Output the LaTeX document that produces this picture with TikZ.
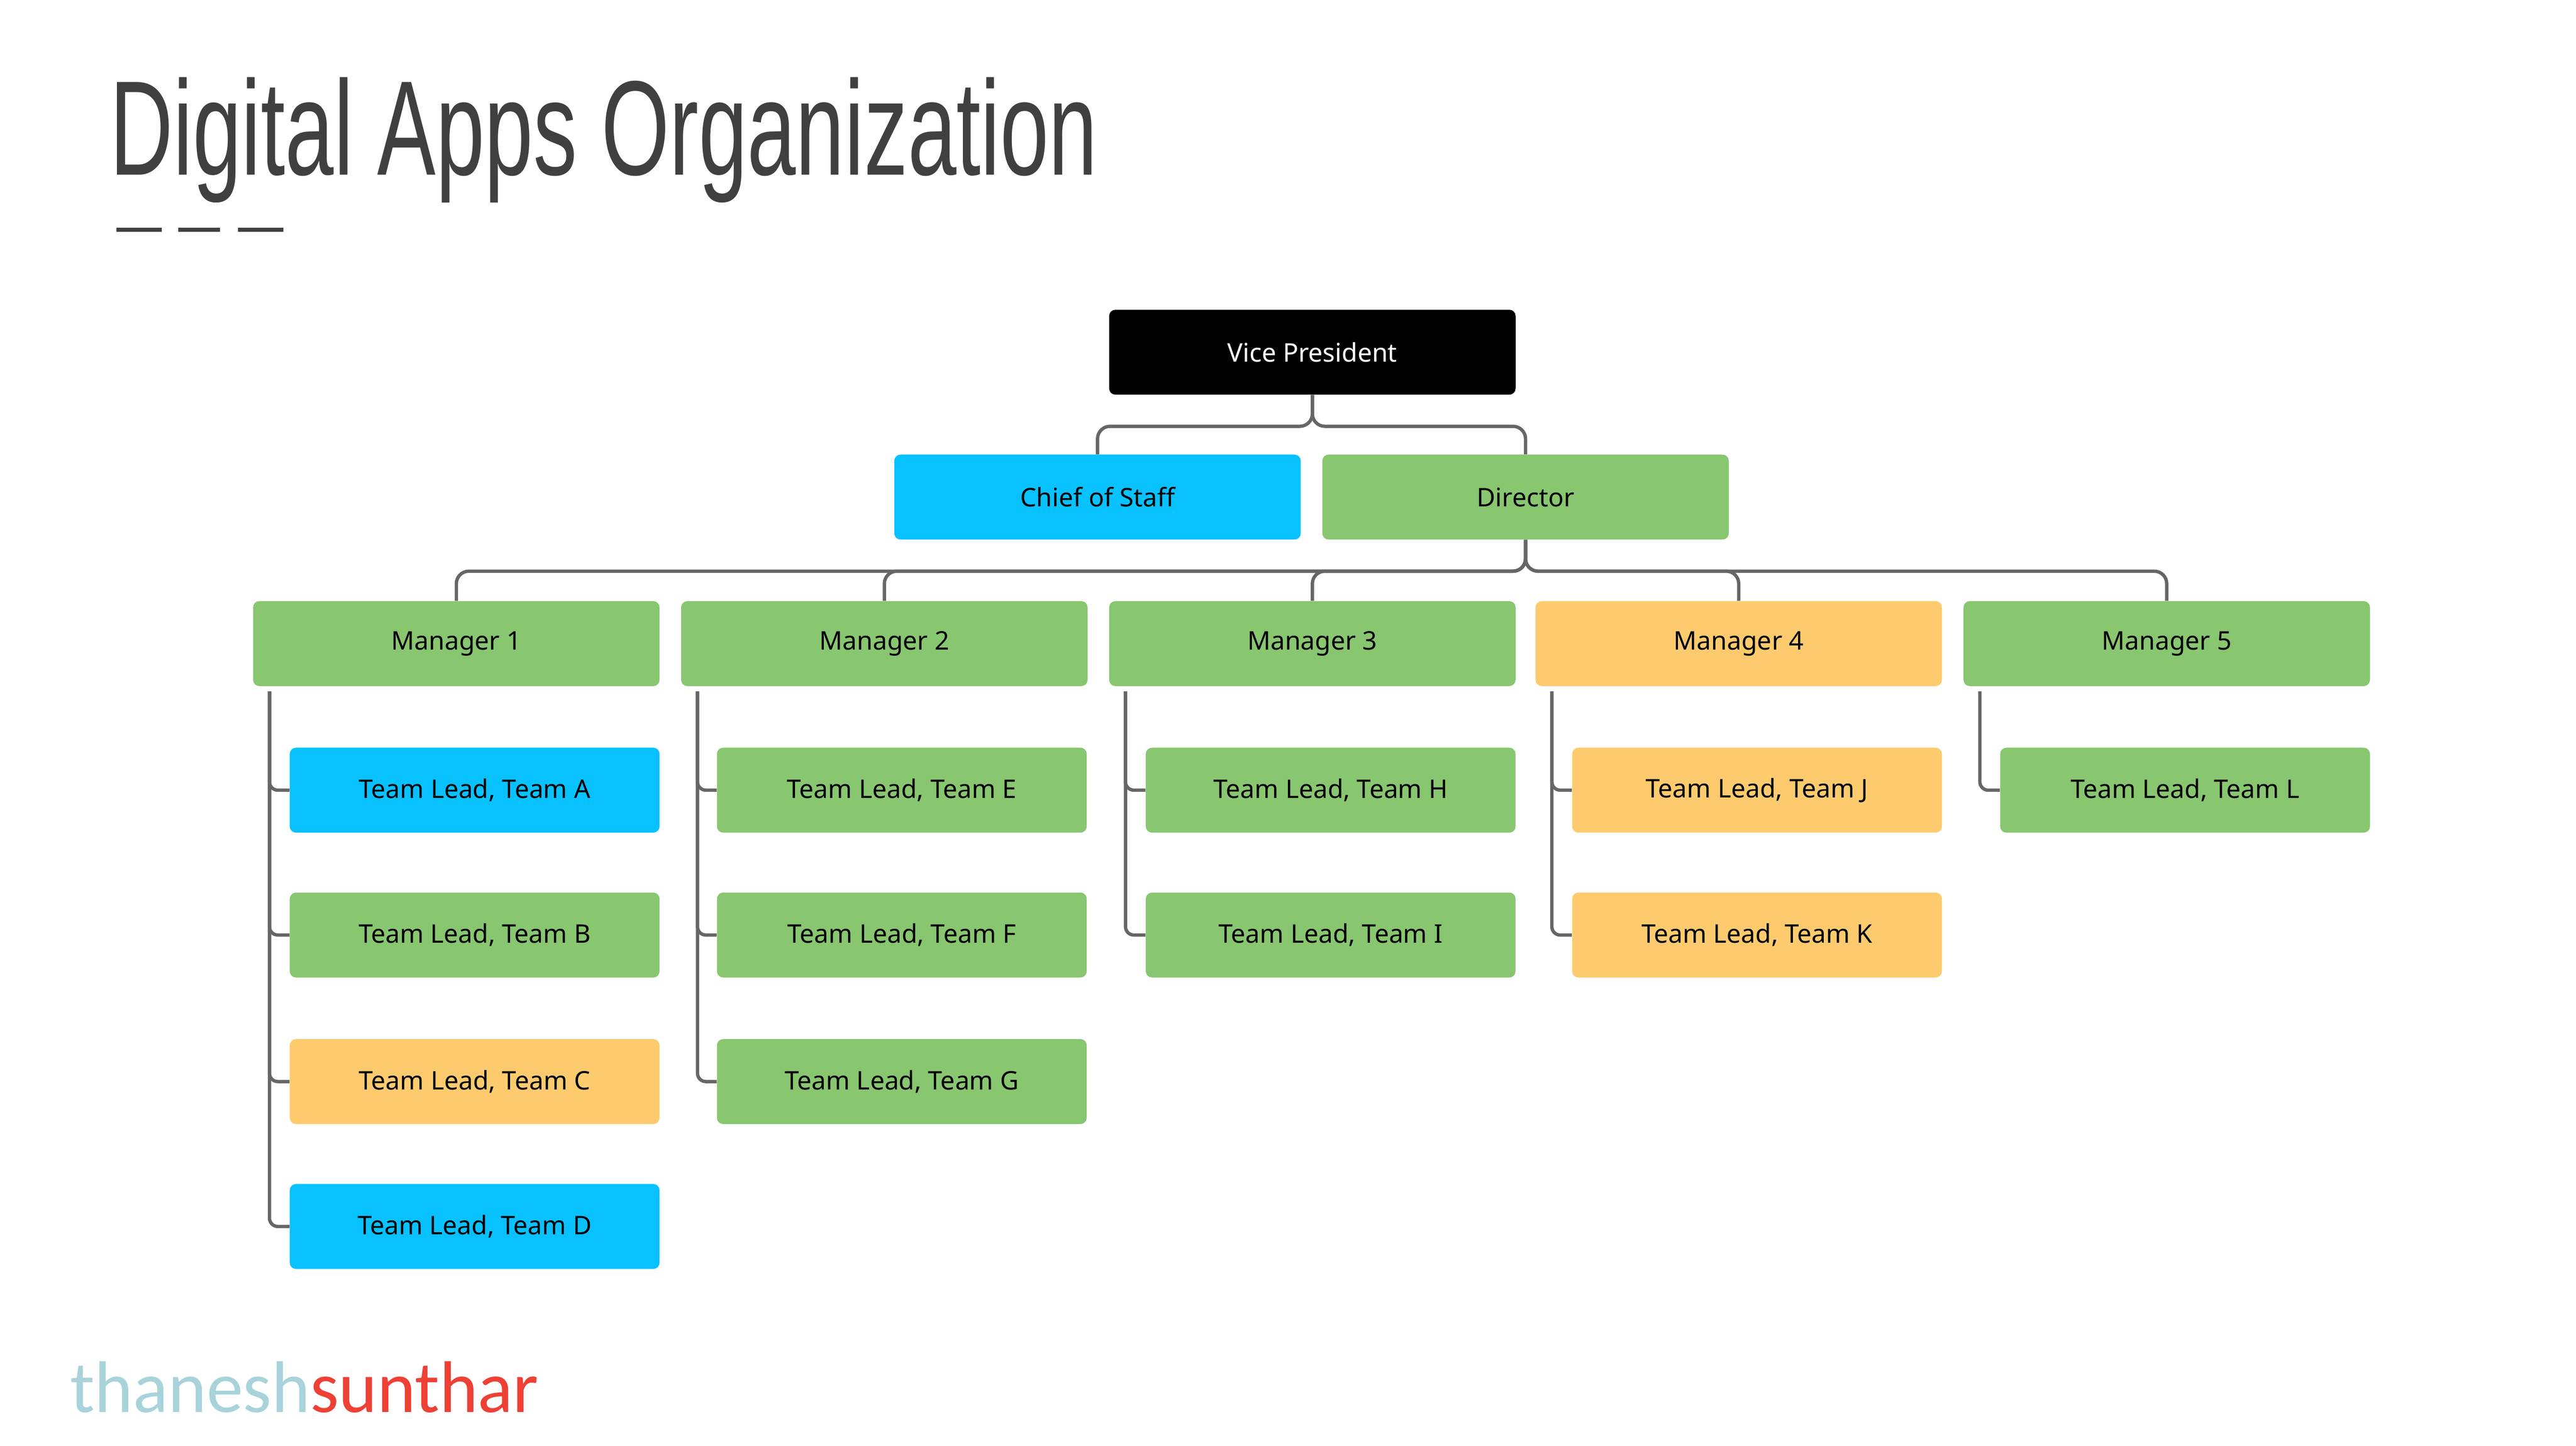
\documentclass[tikz,border=0pt]{standalone}
\usepackage{fontspec}
\setmainfont{Noto Sans}
\newfontfamily\titlefont{Liberation Sans}
\newfontfamily\logofont{Carlito}
\usetikzlibrary{calc}
\definecolor{cblue}{HTML}{08C1FF}
\definecolor{cgreen}{HTML}{88C670}
\definecolor{cyellow}{HTML}{FDCB6E}
\definecolor{cline}{HTML}{666666}
\definecolor{logoblue}{HTML}{A8D3DA}
\definecolor{logored}{HTML}{EE4035}
\definecolor{titlegray}{HTML}{404040}
\tikzset{
 box/.style={minimum width=9.76cm,minimum height=2.04cm,rounded corners=0.15cm,inner sep=0,font=\fontsize{17.5}{20}\selectfont},
 tl/.style={box,minimum width=8.88cm},
 blue/.style={fill=cblue},green/.style={fill=cgreen},yellow/.style={fill=cyellow},
 conn/.style={draw=cline,line width=0.08cm,rounded corners=0.3cm},
}
\begin{document}
\begin{tikzpicture}[x=0.04cm,y=-0.04cm]
\useasboundingbox[fill=white] (0,0) rectangle (1546.75,868.25);
\node[anchor=base west,inner sep=0,text=titlegray] (title) at (66,105) {\titlefont\scalebox{0.65}[1]{\fontsize{92}{100}\selectfont Digital Apps Organization}};
\foreach \a/\b [count=\i] in {70/97,107/132,143/170}{\draw[titlegray,line width=0.1cm] (\a,138) -- (\b,138);}
\node[box,fill=black,text=white] (vp) at (788,211.5) {Vice President};
\node[box,blue] (cos) at (659,298.5) {Chief of Staff};
\node[box,green] (dir) at (916,298.5) {Director};
\node[box,green] (m1) at (274,386.5) {Manager 1};
\node[box,green] (m2) at (531,386.5) {Manager 2};
\node[box,green] (m3) at (788,386.5) {Manager 3};
\node[box,yellow] (m4) at (1044,386.5) {Manager 4};
\node[box,green] (m5) at (1301,386.5) {Manager 5};
\node[tl,blue] (ta) at (285,474.5) {Team Lead, Team A};
\node[tl,green] (tb) at (285,561.5) {Team Lead, Team B};
\node[tl,yellow] (tc) at (285,649.5) {Team Lead, Team C};
\node[tl,blue] (td) at (285,736.5) {Team Lead, Team D};
\node[tl,green] (te) at (541.5,474.5) {Team Lead, Team E};
\node[tl,green] (tf) at (541.5,561.5) {Team Lead, Team F};
\node[tl,green] (tg) at (541.5,649.5) {Team Lead, Team G};
\node[tl,green] (th) at (799,474.5) {Team Lead, Team H};
\node[tl,green] (ti) at (799,561.5) {Team Lead, Team I};
\node[tl,yellow] (tj) at (1055,474.5) {Team Lead, Team J};
\node[tl,yellow] (tk) at (1055,561.5) {Team Lead, Team K};
\node[tl,green] (tlb) at (1312,474.5) {Team Lead, Team L};
\coordinate (j1) at (788,256);
\coordinate (j2) at (916,343);
\draw[conn] (vp.south) -- (j1) -| (cos.north);
\draw[conn] (vp.south) -- (j1) -| (dir.north);
\foreach \m in {m1,m2,m3,m4,m5}{\draw[conn] (dir.south) -- (j2) -| (\m.north);}
\foreach \m/\t in {m1/ta,m1/tb,m1/tc,m1/td,m2/te,m2/tf,m2/tg,m3/th,m3/ti,m4/tj,m4/tk,m5/tlb}{
 \draw[conn,rounded corners=0.2cm] ([xshift=0.4cm,yshift=-0.12cm]\m.south west) |- (\t.west);}
\node[anchor=base west,inner sep=0] (logo) at (42,848) {\logofont\fontsize{50}{54}\selectfont\textcolor{logoblue}{thanesh}\textcolor{logored}{sunthar}};
\end{tikzpicture}
\end{document}
